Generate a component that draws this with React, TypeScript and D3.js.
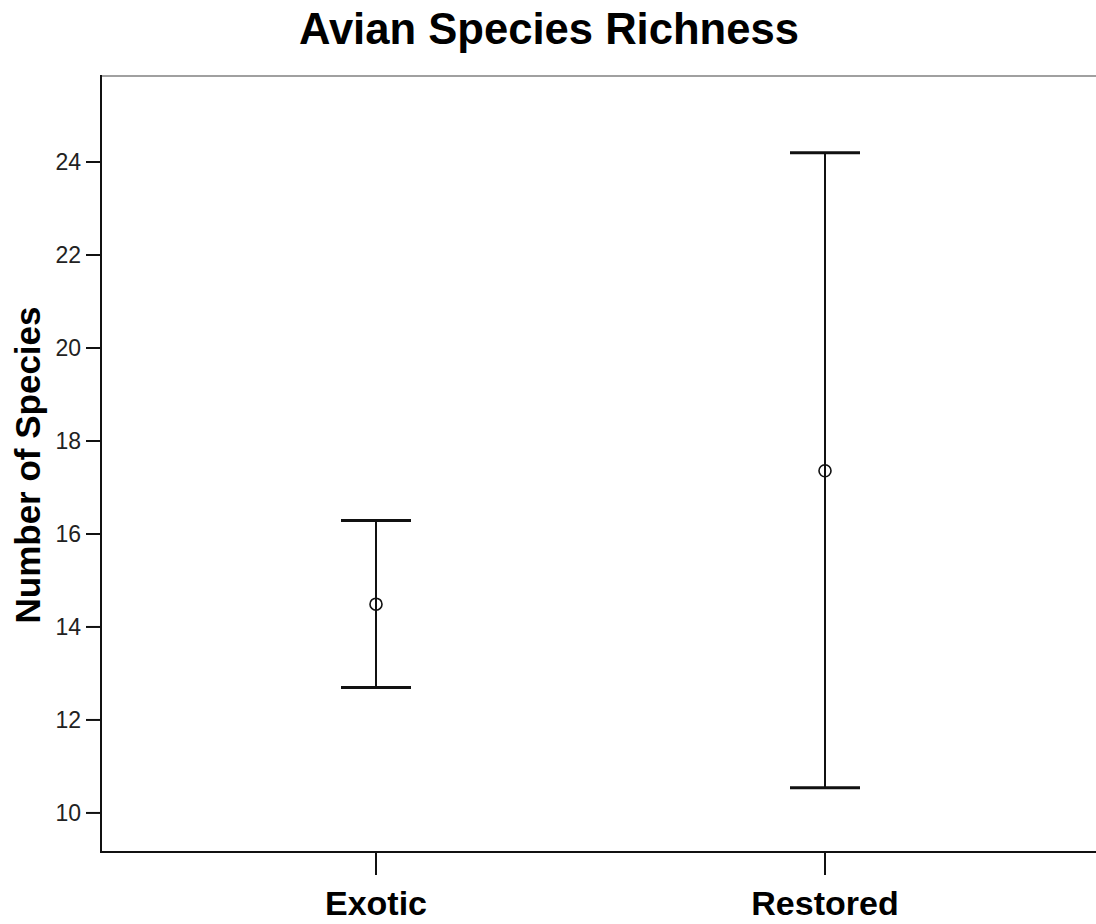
import React from "react";
import * as d3 from "d3";

// Group means with the upper and lower ends of their error bars
const groups = ["Exotic", "Restored"];
const means = [14.49, 17.36];
const upper = [16.29, 24.2];
const lower = [12.7, 10.54];
const yTicks = [10, 12, 14, 16, 18, 20, 22, 24];

const W = 1096;
const H = 924;
const plot = { left: 101, right: 1096, top: 76, bottom: 852 };

const font = "'Liberation Sans', Arial, Helvetica, sans-serif";

export default function App() {
  const y = d3.scaleLinear().domain([9.16, 25.85]).range([plot.bottom, plot.top]);
  const x = d3
    .scalePoint<string>()
    .domain(groups)
    .range([376, 825]);

  const capHalf = 35;

  return (
    <svg
      width={W}
      height={H}
      style={{ position: "absolute", left: 0, top: 0, background: "#fff" }}
      fontFamily={font}
    >
      <text
        x={549}
        y={44}
        textAnchor="middle"
        fontSize={43.6}
        fontWeight="bold"
        fill="#000"
      >
        Avian Species Richness
      </text>

      {/* frame: grey top edge, black axes */}
      <line x1={plot.left} x2={W} y1={plot.top} y2={plot.top} stroke="#a0a0a0" strokeWidth={2} />
      <line x1={plot.left} x2={plot.left} y1={plot.top - 1} y2={plot.bottom + 1} stroke="#111" strokeWidth={2} />
      <line x1={plot.left} x2={W} y1={plot.bottom} y2={plot.bottom} stroke="#111" strokeWidth={2} />

      {yTicks.map((t) => (
        <g key={t}>
          <line x1={86} x2={plot.left} y1={y(t)} y2={y(t)} stroke="#111" strokeWidth={2} />
          <text
            x={81}
            y={y(t)}
            dy="0.35em"
            textAnchor="end"
            fontSize={23}
            fill="#222"
          >
            {t}
          </text>
        </g>
      ))}

      <text
        transform={`translate(40, 465) rotate(-90)`}
        textAnchor="middle"
        fontSize={35}
        fontWeight="bold"
        fill="#000"
      >
        Number of Species
      </text>

      {groups.map((g) => (
        <g key={g}>
          <line x1={x(g)} x2={x(g)} y1={plot.bottom} y2={875} stroke="#111" strokeWidth={2} />
          <text
            x={x(g)}
            y={915}
            textAnchor="middle"
            fontSize={34}
            fontWeight="bold"
            fill="#000"
          >
            {g}
          </text>
        </g>
      ))}

      {groups.map((g, i) => {
        const cx = x(g)!;
        const ym = y(means[i]);
        const r = 6;
        return (
          <g key={g}>
            <line x1={cx} x2={cx} y1={y(upper[i])} y2={y(lower[i])} stroke="#111" strokeWidth={2} />
            <line x1={cx - capHalf} x2={cx + capHalf} y1={y(upper[i])} y2={y(upper[i])} stroke="#111" strokeWidth={3} />
            <line x1={cx - capHalf} x2={cx + capHalf} y1={y(lower[i])} y2={y(lower[i])} stroke="#111" strokeWidth={3} />
            <circle cx={cx} cy={ym} r={r} fill="none" stroke="#111" strokeWidth={1.6} />
          </g>
        );
      })}
    </svg>
  );
}
